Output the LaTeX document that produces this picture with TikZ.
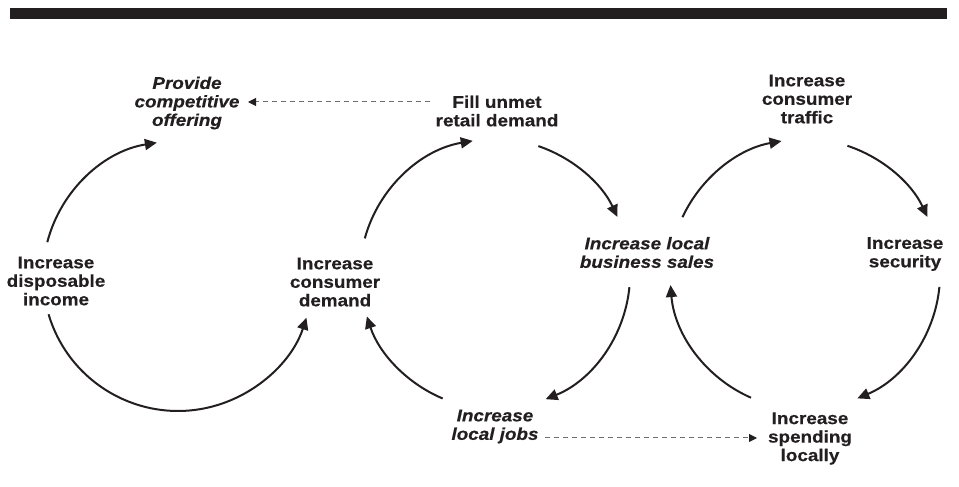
\documentclass[tikz,border=0pt]{standalone}
\usepackage{fontspec}
\setmainfont{Liberation Sans}[FakeStretch=1.11,BoldFeatures={FakeBold=0.4},BoldItalicFeatures={FakeBold=0.4}]
\usetikzlibrary{arrows.meta}
\definecolor{ink}{HTML}{231F20}
\definecolor{dashgray}{HTML}{6D6E71}
\begin{document}
\begin{tikzpicture}[x=1pt,y=1pt,
  lbl/.style={align=center, inner sep=0pt, text=ink, font=\fontsize{17pt}{18.5pt}\selectfont\bfseries},
  ilbl/.style={lbl, font=\fontsize{17pt}{18.5pt}\selectfont\bfseries\itshape},
  loopconn/.style={draw=ink, line width=2pt, -{Triangle[length=12pt,width=11pt]}},
  linkconn/.style={draw=dashgray, line width=1pt, dash pattern=on 5pt off 4pt, -{Triangle[length=8pt,width=8pt,color=ink]}}
]
\useasboundingbox (0,0) rectangle (959,487);
\fill[ink] (10,468) rectangle (947,479);

\node[lbl]  (disp)    at (56,206)   {Increase\\disposable\\income};
\node[ilbl] (offer)   at (187,384)  {Provide\\competitive\\offering};
\node[lbl]  (fill)    at (497,376)  {Fill unmet\\retail demand};
\node[lbl]  (traffic) at (807,388)  {Increase\\consumer\\traffic};
\node[ilbl] (sales)   at (647,234.5){Increase local\\business sales};
\node[lbl]  (secur)   at (905,233)  {Increase\\security};
\node[lbl]  (demand)  at (335,205)  {Increase\\consumer\\demand};
\node[ilbl] (jobs)    at (495,60.5) {Increase\\local jobs};
\node[lbl]  (spend)   at (810,48.5) {Increase\\spending\\locally};

% loop 1
\draw[loopconn] ([shift={(-8.7,38.8)}]disp.center) arc[start angle=165.5, end angle=99, radius=135];
\draw[loopconn] ([shift={(-7.4,-33.3)}]disp.center) arc[start angle=196.5, end angle=342, radius=135];
% loop 2
\draw[loopconn] ([shift={(29.8,43.6)}]demand.center) arc[start angle=164.7, end angle=99.5, radius=135];
\draw[loopconn] ([shift={(41.3,-35.1)}]fill.center) arc[start angle=71.3, end angle=25, radius=135];
\draw[loopconn] ([shift={(-17.6,-34.7)}]sales.center) arc[start angle=-5.6, end angle=-68, radius=135];
\draw[loopconn] ([shift={(-52.3,28)}]jobs.center) arc[start angle=247.2, end angle=198.3, radius=135];
% loop 3
\draw[loopconn] ([shift={(35.5,35.3)}]sales.center) arc[start angle=155.1, end angle=100, radius=135];
\draw[loopconn] ([shift={(40.4,-46.8)}]traffic.center) arc[start angle=71.7, end angle=25, radius=135];
\draw[loopconn] ([shift={(34.4,-32.9)}]secur.center) arc[start angle=-5.5, end angle=-67.2, radius=135];
\draw[loopconn] ([shift={(-59,40.8)}]spend.center) arc[start angle=246.4, end angle=184.7, radius=135];

% dashed links
\draw[linkconn] ([shift={(-67,9)}]fill.center) -- ([shift={(61,1)}]offer.center);
\draw[linkconn] ([shift={(50,-11.5)}]jobs.center) -- ([shift={(-53,0.5)}]spend.center);
\end{tikzpicture}
\end{document}
